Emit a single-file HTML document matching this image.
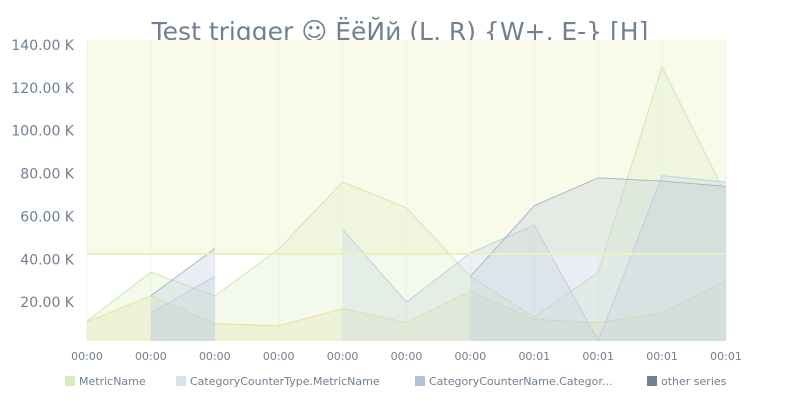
<!DOCTYPE html>
<html><head><meta charset="utf-8"><style>
body{margin:0;background:#fff;width:800px;height:400px;overflow:hidden;font-family:"DejaVu Sans","Liberation Sans",sans-serif}
</style></head><body>
<svg id="chart" width="800" height="400" xmlns="http://www.w3.org/2000/svg">
<text x="400" y="40" text-anchor="middle" font-size="25" fill="#708090">Test trigger ☺ ЁёЙй (L, R) {W+, E-} [H]</text>
<g id="plot"></g>
<g id="axes"></g>
<g font-size="11" fill="#708090">
<g><rect x="65" y="376" width="10" height="10" fill="#d6ecc0"/><text x="79" y="385">MetricName</text></g>
<g><rect x="176" y="376" width="10" height="10" fill="#d8e2ea"/><text x="190" y="385">CategoryCounterType.MetricName</text></g>
<g><rect x="415" y="376" width="10" height="10" fill="#b3c3d9"/><text x="429" y="385">CategoryCounterName.Categor...</text></g>
<g><rect x="647" y="376" width="10" height="10" fill="#708090"/><text x="661" y="385">other series</text></g>
</g>
</svg>
<script>
const xLabels=["00:00","00:00","00:00","00:00","00:00","00:00","00:00","00:01","00:01","00:01","00:01"];
const yTicks=[20000,40000,60000,80000,100000,120000,140000];
const threshold=42500;
const metricName=[11200,34000,22900,44800,76000,64000,32000,13000,34000,129700,70000];
const counterType=[null,15000,32000,null,54000,20000,43000,56000,2000,79000,76000];
const counterName=[null,23000,45000,null,null,null,32000,65000,78000,76500,74000];
const otherSeries=[10800,23000,10000,9000,17000,10500,25000,12000,10500,15000,30000];
const X0=87,X1=726,Y0=341,Y1=40,VMIN=1900,VMAX=142300;
const xs=i=>X0+i*(X1-X0)/(xLabels.length-1);
const ys=v=>Y0-(v-VMIN)*(Y0-Y1)/(VMAX-VMIN);
const NS="http://www.w3.org/2000/svg";
const plot=document.getElementById('plot'),axes=document.getElementById('axes');
function mk(t,a,p){const e=document.createElementNS(NS,t);for(const k in a)e.setAttribute(k,a[k]);p.appendChild(e);return e;}
const bg=mk('rect',{x:X0,y:ys(threshold),width:X1-X0,height:Y0-ys(threshold),fill:'#ffffff'},plot);


const band=mk('rect',{x:X0,y:Y1,width:X1-X0,height:ys(threshold)-Y1,fill:'#f9faea'},plot);


for(let i=0;i<xLabels.length;i++){
 const g=mk('line',{x1:xs(i),x2:xs(i),y1:Y1,y2:Y0,stroke:'#f1f2e8','stroke-width':1},plot);
 
 
}
function series(vals,fill,fo,stroke,name){
 let seg=[];const segs=[];
 vals.forEach((v,i)=>{if(v==null){if(seg.length)segs.push(seg);seg=[];}else seg.push([xs(i),ys(v)]);});
 if(seg.length)segs.push(seg);
 segs.forEach(s=>{
  if(s.length<2)return;
  const pts=s.map(p=>p.join(',')).join(' ');
  const a=mk('polygon',{points:s[0][0]+','+Y0+' '+pts+' '+s[s.length-1][0]+','+Y0,fill:fill,'fill-opacity':fo},plot);
  
  
  const l=mk('polyline',{points:pts,fill:'none',stroke:stroke,'stroke-width':1},plot);
  
  
 });
}
series(otherSeries,'#ece6bc',0.45,'#f5d98a','other-series');
series(metricName,'#d8f0c0',0.3,'#cfe8b4','metric-name');
series(counterType,'#c9d8df',0.35,'#c3d3dc','category-counter-type');
series(counterName,'#b8c6dc',0.3,'#a9b8c8','category-counter-name');
const th=mk('line',{x1:X0,x2:X1,y1:ys(threshold),y2:ys(threshold),stroke:'#ecefc0','stroke-width':2},plot);


yTicks.forEach(v=>{
 const t=mk('text',{x:74,y:ys(v)+5,'text-anchor':'end','font-size':14,fill:'#708090'},axes);
 t.textContent=(v/1000).toFixed(2)+' K';
 
 
});
xLabels.forEach((s,i)=>{
 const t=mk('text',{x:xs(i),y:360,'text-anchor':'middle','font-size':11,fill:'#708090'},axes);
 t.textContent=s;
 
 
});
</script>
</body></html>
